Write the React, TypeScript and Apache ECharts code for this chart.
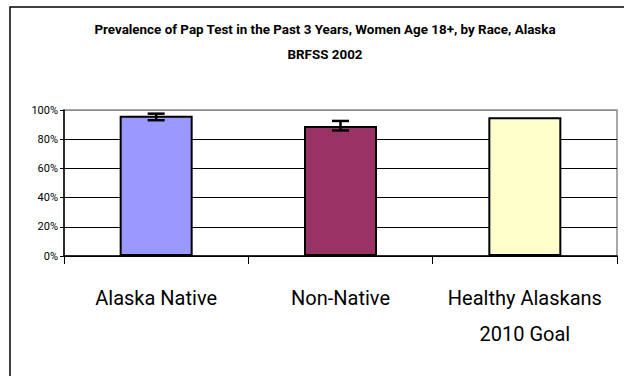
import React, { useEffect, useRef } from "react";
import * as echarts from "echarts";

// Categories and values (percent of women 18+ with a Pap test in past 3 years)
const categories = ["Alaska Native", "Non-Native", "Healthy Alaskans\n2010 Goal"];
const prevalence = [96, 89, 95];
const ciLow = [93, 86, null];
const ciHigh = [97.5, 92.5, null];
const barColors = ["#9999FF", "#993366", "#FFFFCC"];
const yTicks = [0, 20, 40, 60, 80, 100];

const titleLine1 = "Prevalence of Pap Test in the Past 3 Years, Women Age 18+, by Race, Alaska";
const titleLine2 = "BRFSS 2002";

const FONT = "Roboto, 'Noto Sans', sans-serif";

export default function App() {
  const ref = useRef<HTMLDivElement>(null);

  useEffect(() => {
    if (!ref.current) return;
    const chart = echarts.init(ref.current, undefined, { renderer: "svg" });

    const errData = categories
      .map((_, i) => (ciLow[i] == null ? null : [i, ciLow[i], ciHigh[i]]))
      .filter((d) => d != null);

    chart.setOption({
      animation: false,
      backgroundColor: "#ffffff",
      title: {
        text: titleLine1 + "\n" + titleLine2,
        left: 320,
        top: 12,
        textAlign: "center",
        textStyle: {
          fontFamily: FONT,
          fontWeight: "bold",
          fontSize: 13.4,
          lineHeight: 25,
          color: "#000",
        },
      },
      grid: {
        left: 64,
        right: 7,
        top: 110,
        bottom: 120,
        show: true,
        borderColor: "#8c8c8c",
        borderWidth: 1.5,
        backgroundColor: "transparent",
      },
      xAxis: {
        type: "category",
        data: categories,
        axisLine: { lineStyle: { color: "#000", width: 1.5 } },
        axisTick: { show: true, length: 8, lineStyle: { color: "#000", width: 1 } },
        axisLabel: {
          interval: 0,
          fontFamily: FONT,
          fontSize: 20,
          lineHeight: 36,
          color: "#000",
          margin: 24,
          verticalAlign: "top",
        },
      },
      yAxis: {
        type: "value",
        min: 0,
        max: 100,
        interval: 20,
        axisLine: { show: true, lineStyle: { color: "#000", width: 1.5 } },
        axisTick: { show: true, length: 4, lineStyle: { color: "#000" } },
        axisLabel: {
          fontFamily: FONT,
          fontSize: 11,
          color: "#000",
          margin: 6,
          formatter: (v: number) => (yTicks.includes(v) ? v + "%" : ""),
        },
        splitLine: {
          show: true,
          lineStyle: {
            color: ["#000", "#000", "#000", "#000", "#000", "#8c8c8c"],
            width: 1,
          },
        },
      },
      series: [
        {
          type: "bar",
          barWidth: 73,
          data: prevalence.map((v, i) => ({
            value: v,
            itemStyle: { color: barColors[i], borderColor: "#000", borderWidth: 2 },
          })),
          z: 3,
        },
        {
          type: "custom",
          data: errData,
          z: 5,
          renderItem: (params: any, api: any) => {
            const x = api.value(0);
            const lo = api.coord([x, api.value(1)]);
            const hi = api.coord([x, api.value(2)]);
            const half = 8.5;
            const style = { stroke: "#000", lineWidth: 2.5 };
            return {
              type: "group",
              children: [
                { type: "line", shape: { x1: lo[0], y1: lo[1], x2: hi[0], y2: hi[1] }, style },
                { type: "line", shape: { x1: hi[0] - half, y1: hi[1], x2: hi[0] + half, y2: hi[1] }, style },
                { type: "line", shape: { x1: lo[0] - half, y1: lo[1], x2: lo[0] + half, y2: lo[1] }, style },
              ],
            };
          },
        },
      ],
      graphic: [
        {
          type: "rect",
          shape: { x: 10, y: 7, width: 700, height: 500 },
          style: { fill: "none", stroke: "#000", lineWidth: 1.5 },
          silent: true,
          z: 10,
        },
      ],
    });

    return () => chart.dispose();
  }, []);

  return (
    <div
      ref={ref}
      style={{ position: "fixed", left: 0, top: 0, width: 624, height: 376 }}
    />
  );
}
